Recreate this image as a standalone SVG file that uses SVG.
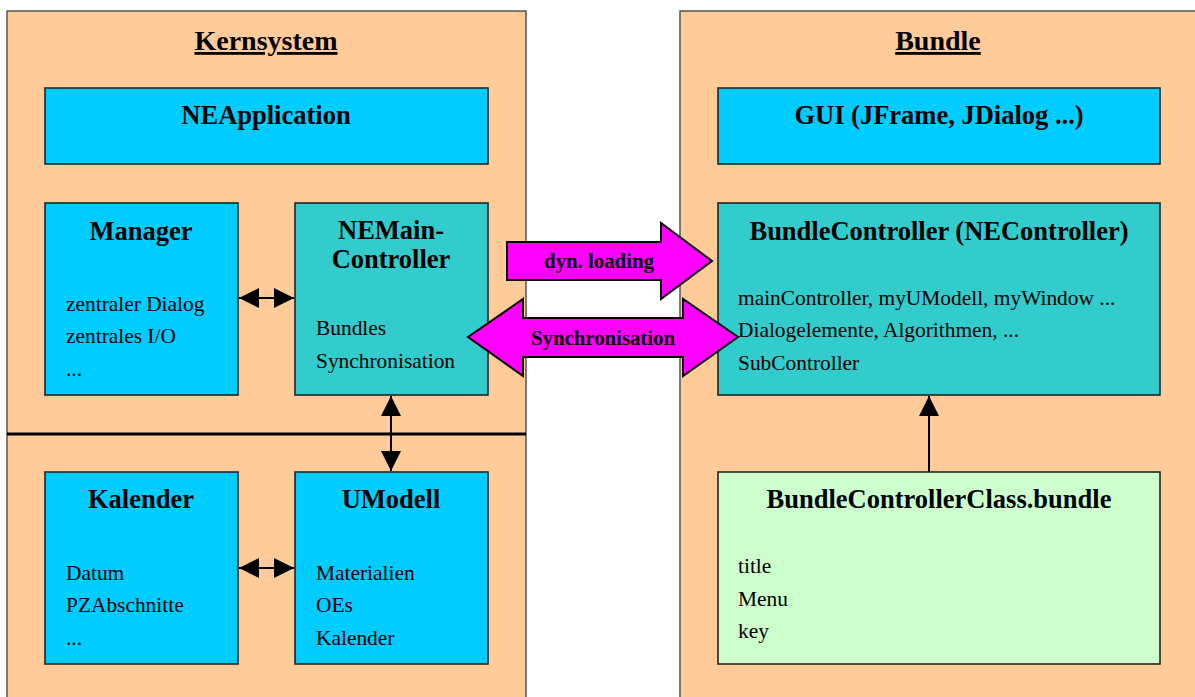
<svg xmlns="http://www.w3.org/2000/svg" width="1195" height="697" viewBox="0 0 1195 697">
  <style>
    text { font-family: "Liberation Serif", "Times New Roman", serif; fill: #000; }
    .panel { fill: #FFCC99; stroke: #555; stroke-width: 1.5; }
    .box { stroke: #222; stroke-width: 1.6; }
    .cyan { fill: #00CCFF; }
    .teal { fill: #33CCCC; }
    .green { fill: #CCFFCC; }
    .title { font-size: 28px; font-weight: bold; text-anchor: middle; text-decoration: underline; }
    .head { font-size: 26.5px; font-weight: bold; text-anchor: middle; }
    .body { font-size: 21.4px; }
    .big { fill: #FF00FF; stroke: #000; stroke-width: 2; stroke-linejoin: miter; }
    .blabel { font-size: 20.8px; font-weight: bold; text-anchor: middle; }
    .conn { stroke: #000; stroke-width: 2; fill: none; }
  </style>
  <defs>
    <marker id="tri20" viewBox="0 0 20 20" refX="20" refY="10" markerWidth="20" markerHeight="20" markerUnits="userSpaceOnUse" orient="auto-start-reverse">
      <path d="M0,0 L20,10 L0,20 Z" fill="#000"/>
    </marker>
  </defs>

  <rect width="1195" height="697" fill="#fff"/>

  <!-- Panels -->
  <g id="kernsystem">
    <rect class="panel" x="7" y="11" width="519" height="700"/>
    <line x1="7" y1="434" x2="526" y2="434" stroke="#000" stroke-width="3"/>
    <text class="title" x="266" y="50">Kernsystem</text>
  </g>
  <g id="bundle">
    <rect class="panel" x="680" y="11" width="530" height="700"/>
    <text class="title" x="938" y="50">Bundle</text>
  </g>

  <!-- Kernsystem nodes -->
  <g id="neapplication">
    <rect class="box cyan" x="45" y="88" width="443" height="76"/>
    <text class="head" x="266" y="124">NEApplication</text>
  </g>
  <g id="manager">
    <rect class="box cyan" x="45" y="203" width="193" height="192"/>
    <text class="head" x="141" y="240">Manager</text>
    <text class="body" x="66" y="311">zentraler Dialog</text>
    <text class="body" x="66" y="343">zentrales I/O</text>
    <text class="body" x="66" y="376">...</text>
  </g>
  <g id="nemaincontroller">
    <rect class="box teal" x="295" y="203" width="193" height="192"/>
    <text class="head" x="391" y="239">NEMain-</text>
    <text class="head" x="391" y="268">Controller</text>
    <text class="body" x="316" y="335">Bundles</text>
    <text class="body" x="316" y="368">Synchronisation</text>
  </g>
  <g id="kalender">
    <rect class="box cyan" x="45" y="472" width="193" height="192"/>
    <text class="head" x="141" y="508">Kalender</text>
    <text class="body" x="66" y="580">Datum</text>
    <text class="body" x="66" y="612">PZAbschnitte</text>
    <text class="body" x="66" y="645">...</text>
  </g>
  <g id="umodell">
    <rect class="box cyan" x="295" y="472" width="193" height="192"/>
    <text class="head" x="391" y="508">UModell</text>
    <text class="body" x="316" y="580">Materialien</text>
    <text class="body" x="316" y="612">OEs</text>
    <text class="body" x="316" y="645">Kalender</text>
  </g>

  <!-- Bundle nodes -->
  <g id="gui">
    <rect class="box cyan" x="718" y="88" width="442" height="76"/>
    <text class="head" x="939" y="124">GUI (JFrame, JDialog ...)</text>
  </g>
  <g id="bundlecontroller">
    <rect class="box teal" x="718" y="203" width="442" height="192"/>
    <text class="head" x="939" y="240">BundleController (NEController)</text>
    <text class="body" x="738" y="305">mainController, myUModell, myWindow ...</text>
    <text class="body" x="738" y="337">Dialogelemente, Algorithmen, ...</text>
    <text class="body" x="738" y="370">SubController</text>
  </g>
  <g id="bundlecontrollerclass">
    <rect class="box green" x="718" y="472" width="442" height="192"/>
    <text class="head" x="939" y="508">BundleControllerClass.bundle</text>
    <text class="body" x="738" y="573">title</text>
    <text class="body" x="738" y="606">Menu</text>
    <text class="body" x="738" y="638">key</text>
  </g>

  <!-- Connectors -->
  <g id="connectors">
    <line class="conn" x1="239" y1="298" x2="294" y2="298" marker-start="url(#tri20)" marker-end="url(#tri20)"/>
    <line class="conn" x1="239" y1="568" x2="294" y2="568" marker-start="url(#tri20)" marker-end="url(#tri20)"/>
    <line class="conn" x1="391" y1="396" x2="391" y2="471" marker-start="url(#tri20)" marker-end="url(#tri20)"/>
    <line class="conn" x1="929" y1="472" x2="929" y2="396" marker-end="url(#tri20)"/>

    <!-- block arrow: dyn. loading -->
    <path class="big" d="M507,242 L661,242 L661,223 L712,261 L661,299 L661,280 L507,280 Z"/>
    <text class="blabel" x="599" y="268">dyn. loading</text>

    <!-- block arrow: Synchronisation (double-headed) -->
    <path class="big" d="M468,337 L523,299 L523,318 L683,318 L683,299 L738,337 L683,376 L683,357 L523,357 L523,376 Z"/>
    <text class="blabel" x="603" y="345">Synchronisation</text>
  </g>
</svg>
